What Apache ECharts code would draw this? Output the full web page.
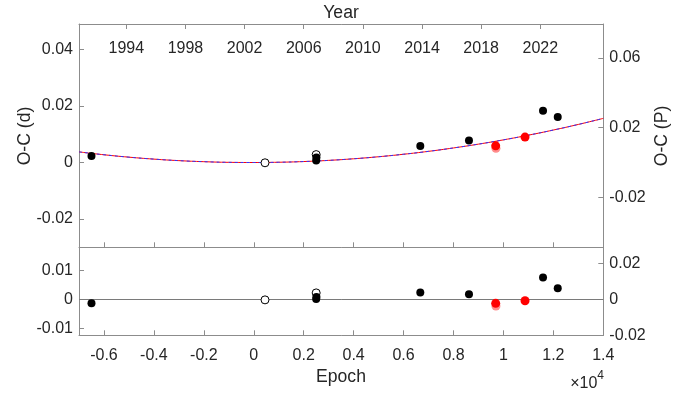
<!DOCTYPE html>
<html>
<head>
<meta charset="utf-8">
<script src="https://cdn.jsdelivr.net/npm/echarts@6/dist/echarts.min.js"></script>
<style>
html,body{margin:0;padding:0;background:#fff;}
#chart{width:694px;height:393px;}
</style>
</head>
<body>
<div id="chart"></div>
<script>
// ---- data ----
const period = 0.617; // days, links O-C (d) to O-C (P)

const fitEpoch = [-7000,-6000,-5000,-4000,-3000,-2000,-1000,0,1000,2000,3000,4000,5000,6000,7000,8000,9000,10000,11000,12000,13000,14000];
const fitOC    = [0.00375,0.00274,0.00189,0.00120,0.00066,0.00029,0.00006,0.00000,0.00009,0.00034,0.00075,0.00132,0.00204,0.00292,0.00395,0.00515,0.00650,0.00801,0.00967,0.01149,0.01347,0.01561];

const blackEpoch = [-6500, 2510, 2500, 6670, 8620, 11586, 12175];
const blackOC    = [0.00234, 0.0018, 0.0007, 0.0058, 0.0078, 0.0183, 0.0161];
const blackRes   = [-0.0014, 0.0008, 0.0001, 0.0023, 0.0017, 0.0075, 0.0038];

const openEpoch = [450, 2500];
const openOC    = [-0.0001, 0.0028];
const openRes   = [-0.0002, 0.0022];

const redEpoch = [9690, 10865];
const redOC    = [0.0059, 0.0090];
const redRes   = [-0.0014, -0.0005];

const pinkEpoch = [9700];
const pinkOC    = [0.0050];
const pinkRes   = [-0.0023];

const epochTicks = [-6000,-4000,-2000,0,2000,4000,6000,8000,10000,12000,14000];
const yearTicks  = [1994,1998,2002,2006,2010,2014,2018,2022];
const ocDTicks   = [-0.02,0,0.02,0.04];
const ocPTicks   = [-0.02,0.02,0.06];
const resDTicks  = [-0.01,0,0.01];
const resPTicks  = [-0.02,0,0.02];

// ---- chart ----
const zip = (a,b) => a.map((v,i)=>[v,b[i]]);
const FONT = '"Liberation Sans", Arial, Helvetica, sans-serif';
const AX = '#8c8c8c';
const TXT = '#262626';
const fmtNum = v => (Math.abs(v) < 1e-12 ? '0' : String(+v.toFixed(4)));
const fmtEpoch = v => (Math.abs(v) < 1e-9 ? '0' : String(+(v/1e4).toFixed(2)));

const L = 79, R = 694 - 603.3, T = 24, MID = 247.3, B = 335.3;

const lineAx = {show:true, onZero:false, lineStyle:{color:AX, width:1}};
function tick(vals){ return {show:true, inside:true, length:5, lineStyle:{color:AX, width:1}, customValues: vals}; }
function lab(vals, fmt, margin, extra){ return Object.assign({show:true, color:TXT, fontSize:16, fontFamily:FONT, margin:margin, customValues: vals, formatter: fmt}, extra||{}); }

const openStyle = {color:'#fff', borderColor:'#000', borderWidth:1, opacity:1};
const blackStyle = {color:'#000', opacity:1};
const pinkStyle = {color:'#ff7070', opacity:0.8};
const redStyle = {color:'#ff0000', opacity:1};

const chart = echarts.init(document.getElementById('chart'), null, {renderer:'canvas'});
const option = {
  animation:false,
  backgroundColor:'#fff',
  grid:[
    {left:L, right:R, top:T, height:MID-T, containLabel:false},
    {left:L, right:R, top:MID, height:B-MID, containLabel:false}
  ],
  xAxis:[
    {gridIndex:0, type:'value', position:'bottom', min:-7000, max:14000, axisLine:lineAx, axisTick:tick(epochTicks), axisLabel:{show:false}, splitLine:{show:false}},
    {gridIndex:0, type:'value', position:'top', min:1990.8, max:2026.26, axisLine:lineAx, axisTick:tick(yearTicks),
      axisLabel:lab(yearTicks, v=>String(Math.round(v)), 17, {inside:true}), splitLine:{show:false}},
    {gridIndex:1, type:'value', position:'bottom', min:-7000, max:14000, axisLine:lineAx, axisTick:tick(epochTicks),
      axisLabel:lab(epochTicks, fmtEpoch, 12), splitLine:{show:false}}
  ],
  yAxis:[
    {gridIndex:0, type:'value', position:'left', min:-0.03, max:0.049, axisLine:lineAx, axisTick:tick(ocDTicks), axisLabel:lab(ocDTicks, fmtNum, 6), splitLine:{show:false}},
    {gridIndex:0, type:'value', position:'right', min:-0.03/period, max:0.049/period, axisLine:lineAx, axisTick:tick(ocPTicks), axisLabel:lab(ocPTicks, fmtNum, 6), splitLine:{show:false}},
    {gridIndex:1, type:'value', position:'left', min:-0.0124, max:0.0179, axisLine:lineAx, axisTick:tick(resDTicks), axisLabel:lab(resDTicks, fmtNum, 6), splitLine:{show:false}},
    {gridIndex:1, type:'value', position:'right', min:-0.0124/period, max:0.0179/period, axisLine:lineAx, axisTick:tick(resPTicks), axisLabel:lab(resPTicks, fmtNum, 6), splitLine:{show:false}}
  ],
  series:[
    {type:'line', xAxisIndex:0, yAxisIndex:0, data:zip(fitEpoch, fitOC), smooth:true, symbol:'none', lineStyle:{color:'#ff0000', width:1}, z:2, silent:true},
    {type:'line', xAxisIndex:0, yAxisIndex:0, data:zip(fitEpoch, fitOC), smooth:true, symbol:'none', lineStyle:{color:'#3333ff', width:1, type:[3,3]}, z:3, silent:true},
    {type:'scatter', xAxisIndex:0, yAxisIndex:0, data:zip(openEpoch, openOC), symbolSize:8, itemStyle:openStyle, z:4},
    {type:'scatter', xAxisIndex:0, yAxisIndex:0, data:zip(blackEpoch, blackOC), symbolSize:8, itemStyle:blackStyle, z:5},
    {type:'scatter', xAxisIndex:0, yAxisIndex:0, data:zip(pinkEpoch, pinkOC), symbolSize:9, itemStyle:pinkStyle, z:5},
    {type:'scatter', xAxisIndex:0, yAxisIndex:0, data:zip(redEpoch, redOC), symbolSize:9, itemStyle:redStyle, z:6},

    {type:'scatter', xAxisIndex:2, yAxisIndex:2, data:zip(openEpoch, openRes), symbolSize:8, itemStyle:openStyle, z:4,
      markLine:{silent:true, symbol:'none', label:{show:false}, lineStyle:{color:'#7a7a7a', width:1, type:'solid'}, data:[{yAxis:0}], z:1}},
    {type:'scatter', xAxisIndex:2, yAxisIndex:2, data:zip(blackEpoch, blackRes), symbolSize:8, itemStyle:blackStyle, z:5},
    {type:'scatter', xAxisIndex:2, yAxisIndex:2, data:zip(pinkEpoch, pinkRes), symbolSize:9, itemStyle:pinkStyle, z:5},
    {type:'scatter', xAxisIndex:2, yAxisIndex:2, data:zip(redEpoch, redRes), symbolSize:9, itemStyle:redStyle, z:6}
  ],
  graphic:[
    {type:'text', x:341, y:13, style:{text:'Year', font:'17.6px '+FONT, fill:TXT, textAlign:'center', textVerticalAlign:'middle'}},
    {type:'text', x:341, y:377, style:{text:'Epoch', font:'17.6px '+FONT, fill:TXT, textAlign:'center', textVerticalAlign:'middle'}},
    {type:'text', x:25, y:136, rotation:Math.PI/2, style:{text:'O-C (d)', font:'17.6px '+FONT, fill:TXT, textAlign:'center', textVerticalAlign:'middle'}},
    {type:'text', x:662, y:136, rotation:Math.PI/2, style:{text:'O-C (P)', font:'17.6px '+FONT, fill:TXT, textAlign:'center', textVerticalAlign:'middle'}},
    {type:'text', x:604, y:381, style:{text:'{a|×10}{b|4}', textAlign:'right', textVerticalAlign:'middle', fill:TXT,
      rich:{a:{fontSize:16, fontFamily:FONT, fill:TXT, verticalAlign:'bottom'}, b:{fontSize:12, fontFamily:FONT, fill:TXT, verticalAlign:'top', padding:[0,0,10,0]}}}}
  ]
};
chart.setOption(option);
</script>
</body>
</html>
